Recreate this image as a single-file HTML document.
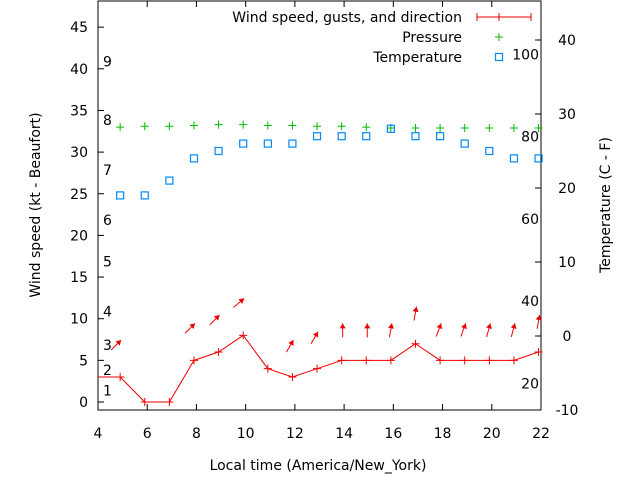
<!DOCTYPE html>
<html><head><meta charset="utf-8"><style>
body{margin:0;background:#fff}
svg{display:block;font-family:"DejaVu Sans","Liberation Sans",sans-serif}
</style></head><body>
<svg id="c" width="640" height="480"></svg>
<script>
const times=[4.9,5.9,6.9,7.9,8.9,9.9,10.9,11.9,12.9,13.9,14.9,15.9,16.9,17.9,18.9,19.9,20.9,21.9];
const windSpeed=[3,0,0,5,6,8,4,3,4,5,5,5,7,5,5,5,5,6];
const windDir=[45,null,null,45,45,50,null,30,30,0,0,10,10,20,20,15,15,10];
const pressure=[33,33.1,33.1,33.2,33.3,33.3,33.2,33.2,33.1,33.1,33,32.9,32.9,32.9,32.9,32.9,32.9,32.9];
const temperature=[19,19,21,24,25,26,26,26,27,27,27,28,27,27,26,25,24,24];
const xTicks=[4,6,8,10,12,14,16,18,20,22];
const yTicks=[0,5,10,15,20,25,30,35,40,45];
const y2Ticks=[-10,0,10,20,30,40];
const beaufort=[1,2,3,4,5,6,7,8,9];
const beaufortKt=[1,3.5,6.5,10.5,16.5,21.5,27.5,33.5,40.5];
const fahrenheit=[20,40,60,80,100];

const L=98,R=541,T=1,B=410;
const X=v=>L+(v-4)*(R-L)/18;
const Y=v=>402-v*8.33;
const Y2=v=>336-v*7.4;
const svg=document.getElementById('c');
const NS='http://www.w3.org/2000/svg';
function mk(tag,attrs,parent){const e=document.createElementNS(NS,tag);for(const k in attrs)e.setAttribute(k,attrs[k]);(parent||svg).appendChild(e);return e;}
function txt(s,x,y,anchor,extra){const t=mk('text',Object.assign({x:x,y:y,'font-size':14,'text-anchor':anchor||'middle',fill:'#000'},extra||{}));t.textContent=s;return t;}

const border=mk('rect',{x:L,y:T,width:R-L,height:B-T,fill:'none',stroke:'#000','stroke-width':1});



xTicks.forEach(v=>{
  const t1=mk('line',{x1:X(v),x2:X(v),y1:B,y2:B-6,stroke:'#000'});
  
  
  mk('line',{x1:X(v),x2:X(v),y1:T,y2:T+6,stroke:'#000'});
  const l=txt(String(v),X(v),438);
  
  
});
yTicks.forEach(v=>{
  const t=mk('line',{x1:L,x2:L+6,y1:Y(v),y2:Y(v),stroke:'#000'});
  
  
  const l=txt(String(v),L-10,Y(v)+5,'end');
  
  
});
y2Ticks.forEach(v=>{
  const t=mk('line',{x1:R,x2:R-6,y1:Y2(v),y2:Y2(v),stroke:'#000'});
  
  
  const l=txt(String(v),R+26,Y2(v)+5,'middle');
  
  
});
beaufort.forEach((b,i)=>{
  const l=txt(String(b),103,Y(beaufortKt[i])+2,'start');
  
  
});
fahrenheit.forEach(f=>{
  const l=txt(String(f),539,Y2((f-32)*5/9)+3,'end');
  
  
});

let xl=txt('Local time (America/New_York)',318,470);


let yl=txt('Wind speed (kt - Beaufort)',0,0,'middle',{transform:'translate(40,205) rotate(-90)'});


let y2l=txt('Temperature (C - F)',0,0,'middle',{transform:'translate(610,205) rotate(-90)'});



let pts=[[X(4),Y(windSpeed[0])]].concat(times.map((t,i)=>[X(t),Y(windSpeed[i])]));
const wl=mk('polyline',{points:pts.map(p=>p.join(',')).join(' '),fill:'none',stroke:'#e00','stroke-width':1});


times.forEach((t,i)=>{
  const g=mk('path',{d:`M${X(t)-4},${Y(windSpeed[i])}h8M${X(t)},${Y(windSpeed[i])-4}v8`,stroke:'#e00'});
  
  
  if(windDir[i]!==null){
    const a=windDir[i]*Math.PI/180;
    const tx=X(t)+1,ty=Y(windSpeed[i])-37;
    const dx=Math.sin(a),dy=-Math.cos(a);
    const bx=tx-dx*14,by=ty-dy*14;
    const ar=mk('g',{},svg);
    
    
    mk('line',{x1:bx,y1:by,x2:tx,y2:ty,stroke:'#e00','stroke-width':1},ar);
    const px=-dy,py=dx;
    mk('polygon',{points:`${tx},${ty} ${tx-dx*5+px*3},${ty-dy*5+py*3} ${tx-dx*5-px*3},${ty-dy*5-py*3}`,fill:'#e00'},ar);
  }
});
times.forEach((t,i)=>{
  const p=mk('path',{d:`M${X(t)-4},${Y(pressure[i])}h8M${X(t)},${Y(pressure[i])-4}v8`,stroke:'#0b0'});
  
  
});
times.forEach((t,i)=>{
  const s=mk('rect',{x:X(t)-3.5,y:Y2(temperature[i])-3.5,width:7,height:7,fill:'none',stroke:'#08f','stroke-width':1.2});
  
  
});

let e1=txt('Wind speed, gusts, and direction',462,22,'end');


const s1=mk('path',{d:'M477,17h54M477,13v8M531,13v8M499,13v8',stroke:'#e00'});


let e2=txt('Pressure',462,42,'end');


const s2=mk('path',{d:'M495,37h8M499,33v8',stroke:'#0b0'});


let e3=txt('Temperature',462,62,'end');


const s3=mk('rect',{x:495.5,y:53.5,width:7,height:7,fill:'none',stroke:'#08f','stroke-width':1.2});


</script>
</body></html>
